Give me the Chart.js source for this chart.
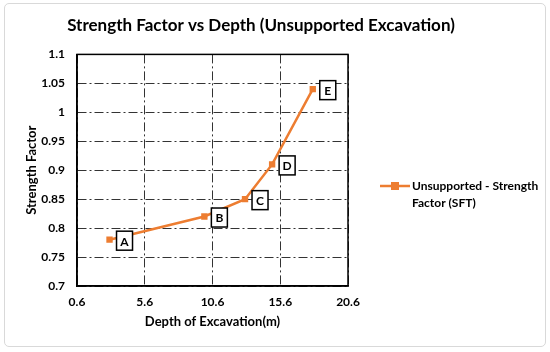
<!DOCTYPE html>
<html><head><meta charset="utf-8">
<script src="https://cdn.jsdelivr.net/npm/chart.js@4.4.0/dist/chart.umd.min.js"></script>
<style>
html,body{margin:0;padding:0;background:#fff;}
#wrap{position:relative;width:550px;height:352px;}
#frame{position:absolute;left:4px;top:3px;width:542px;height:344px;border:1px solid #d9d9d9;border-radius:5px;box-sizing:border-box;}
canvas{position:absolute;left:0;top:0;}
</style></head><body>
<div id="wrap"><div id="frame"></div><canvas id="c" width="550" height="352"></canvas></div>
<script>
const depth = [3, 10, 13, 15, 18];
const strengthFactor = [0.78, 0.82, 0.85, 0.91, 1.04];
const pointLabels = ['A', 'B', 'C', 'D', 'E'];
const xTicks = [0.6, 5.6, 10.6, 15.6, 20.6];
const yTicks = [0.7, 0.75, 0.8, 0.85, 0.9, 0.95, 1, 1.05, 1.1];
const seriesName = 'Unsupported - Strength Factor (SFT)';
const legendLines = ['Unsupported - Strength', 'Factor (SFT)'];
const chartTitle = 'Strength Factor vs Depth (Unsupported Excavation)';
const xTitle = 'Depth of Excavation(m)';
const yTitle = 'Strength Factor';

const ORANGE = '#ED7D31';
const FONT = 'Lato';

const boxLabels = {
  id: 'boxLabels',
  afterDatasetsDraw(chart) {
    const ctx = chart.ctx;
    const meta = chart.getDatasetMeta(0);
    ctx.save();
    ctx.font = 'bold 12px ' + FONT;
    ctx.textAlign = 'center';
    ctx.textBaseline = 'middle';
    meta.data.forEach((pt, i) => {
      const cx = pt.x + 15, cy = pt.y + 1;
      const w = 16, h = 19;
      ctx.fillStyle = '#fff';
      ctx.fillRect(cx - w / 2, cy - h / 2, w, h);
      ctx.strokeStyle = '#000';
      ctx.lineWidth = 1.5;
      ctx.strokeRect(cx - w / 2, cy - h / 2, w, h);
      ctx.fillStyle = '#000';
      ctx.fillText(pointLabels[i], cx, cy + 1);
    });
    ctx.restore();
  }
};

const frameAndLegend = {
  id: 'frameAndLegend',
  afterDraw(chart) {
    const ctx = chart.ctx;
    const a = chart.chartArea;
    ctx.save();
    ctx.strokeStyle = '#000';
    ctx.lineWidth = 1.5;
    ctx.strokeRect(a.left, a.top, a.right - a.left, a.bottom - a.top);
    // legend
    const lx = a.right + 32, ly = 186;
    ctx.strokeStyle = ORANGE;
    ctx.lineWidth = 2.5;
    ctx.beginPath();
    ctx.moveTo(lx, ly);
    ctx.lineTo(lx + 30, ly);
    ctx.stroke();
    ctx.fillStyle = ORANGE;
    ctx.fillRect(lx + 15 - 4, ly - 4, 8, 8);
    ctx.fillStyle = '#000';
    ctx.font = 'bold 12px ' + FONT;
    ctx.textAlign = 'left';
    ctx.textBaseline = 'middle';
    legendLines.forEach((t, i) => ctx.fillText(t, lx + 32, ly + i * 17));
    ctx.restore();
  }
};

new Chart(document.getElementById('c'), {
  type: 'line',
  data: {
    datasets: [{
      label: seriesName,
      data: depth.map((d, i) => ({ x: d, y: strengthFactor[i] })),
      borderColor: ORANGE,
      backgroundColor: ORANGE,
      borderWidth: 2.5,
      pointStyle: 'rect',
      pointRadius: 4.5,
      pointBorderWidth: 0,
      fill: false,
      tension: 0
    }]
  },
  options: {
    responsive: false,
    animation: false,
    layout: { padding: { left: 0, right: 28, top: 10, bottom: 10 } },
    plugins: {
      legend: { display: false },
      tooltip: { enabled: false },
      title: {
        display: true, text: chartTitle, color: '#000',
        font: { family: FONT, size: 17, weight: 'bold' },
        padding: { top: 5, bottom: 19 }
      }
    },
    scales: {
      x: {
        type: 'linear', min: 0.6, max: 20.6,
        afterBuildTicks: s => { s.ticks = xTicks.map(v => ({ value: v })); },
        afterFit: s => { s.height = 56; },
        grid: { color: '#333', lineWidth: 1, drawTicks: false },
        border: { display: true, color: '#000', width: 1.5, dash: [9, 3, 2, 3] },
        ticks: { padding: 9, color: '#000', font: { family: FONT, size: 12, weight: 'bold' }, callback: v => String(v), maxRotation: 0, autoSkip: false },
        title: { display: true, text: xTitle, color: '#000', font: { family: FONT, size: 13, weight: 'bold' }, padding: { top: 0, bottom: 12 } }
      },
      y: {
        type: 'linear', min: 0.7, max: 1.1,
        afterBuildTicks: s => { s.ticks = yTicks.map(v => ({ value: v })); },
        afterFit: s => { s.width = 77; },
        grid: { color: '#333', lineWidth: 1, drawTicks: false },
        border: { display: true, color: '#000', width: 1.5, dash: [9, 3, 2, 3] },
        ticks: { padding: 12, color: '#000', font: { family: FONT, size: 12, weight: 'bold' }, callback: v => String(+Number(v).toFixed(2)), autoSkip: false },
        title: { display: true, text: yTitle, color: '#000', font: { family: FONT, size: 13, weight: 'bold' }, padding: { top: 24, bottom: 0 } }
      },
      y2: {
        position: 'right', display: true,
        afterFit: s => { s.width = 174; },
        grid: { display: false },
        ticks: { display: false },
        border: { display: false }
      }
    }
  },
  plugins: [boxLabels, frameAndLegend]
});
</script>
</body></html>
